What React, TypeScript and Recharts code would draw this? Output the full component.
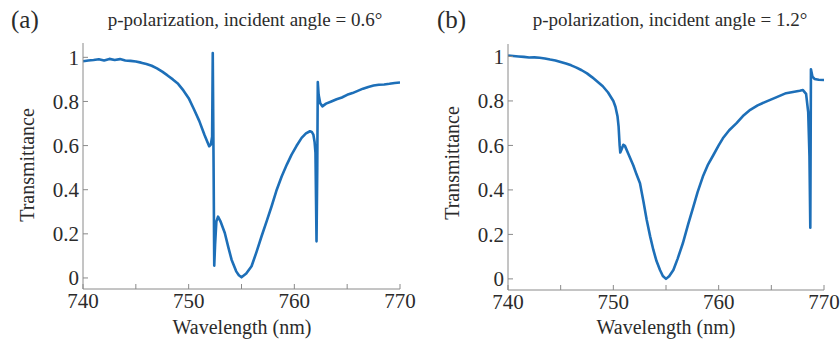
import { LineChart, Line, XAxis, YAxis } from 'recharts';

// Panel (a): p-polarization at 0.6° incidence
const wavelengthA = [
  740.0, 740.5, 741.0, 741.5, 742.0, 742.5, 743.0, 743.5, 744.0, 744.5,
  745.0, 745.5, 746.0, 746.5, 747.0, 747.5, 748.0, 748.5, 749.0, 749.5,
  750.0, 750.5, 751.0, 751.5, 751.94, 752.1, 752.22, 752.28, 752.36, 752.42,
  752.5, 752.62, 752.78, 753.0, 753.42, 753.75, 754.06, 754.5, 754.75, 755.0,
  755.45, 755.95, 756.4, 756.9, 757.4, 757.85, 758.3, 758.8, 759.3, 759.74,
  760.2, 760.69, 761.1, 761.48, 761.65, 761.8, 761.92, 762.0, 762.1, 762.17,
  762.22, 762.3, 762.45, 762.65, 763.0, 763.5, 764.0, 764.5, 765.0, 765.5,
  766.0, 766.5, 767.0, 767.5, 768.0, 768.5, 769.0, 769.5, 770.0,
];
const transmittanceA = [
  0.982, 0.986, 0.988, 0.991, 0.986, 0.993, 0.988, 0.992, 0.986, 0.984,
  0.981, 0.976, 0.970, 0.962, 0.950, 0.935, 0.918, 0.900, 0.880, 0.850,
  0.815, 0.765, 0.712, 0.648, 0.597, 0.605, 0.640, 1.020, 0.500, 0.056,
  0.150, 0.255, 0.278, 0.258, 0.204, 0.140, 0.083, 0.030, 0.012, 0.003,
  0.020, 0.053, 0.115, 0.189, 0.260, 0.325, 0.395, 0.460, 0.515, 0.559,
  0.598, 0.635, 0.655, 0.665, 0.662, 0.650, 0.615, 0.567, 0.166, 0.500,
  0.888, 0.830, 0.792, 0.778, 0.790, 0.800, 0.810, 0.818, 0.830, 0.838,
  0.848, 0.858, 0.866, 0.872, 0.876, 0.877, 0.880, 0.884, 0.886,
];

// Panel (b): p-polarization at 1.2° incidence
const wavelengthB = [
  740.0, 740.5, 741.0, 741.5, 742.0, 742.5, 743.0, 743.5, 744.0, 744.5,
  745.0, 745.5, 746.0, 746.5, 747.0, 747.5, 748.0, 748.5, 749.0, 749.5,
  750.0, 750.2, 750.4, 750.5, 750.6, 750.66, 750.75, 750.95, 751.1, 751.4,
  751.9, 752.2, 752.53, 752.85, 753.17, 753.5, 753.8, 754.1, 754.43, 754.7,
  755.0, 755.3, 755.7, 756.1, 756.6, 757.1, 757.6, 758.0, 758.5, 759.0,
  759.5, 760.0, 760.4, 761.0, 761.7, 762.3, 763.0, 763.7, 764.5, 765.4,
  766.4, 767.7, 768.0, 768.3, 768.5, 768.62, 768.7, 768.76, 768.9, 769.1,
  769.5, 770.0,
];
const transmittanceB = [
  1.004, 1.002, 1.000, 0.998, 0.995, 0.996, 0.994, 0.991, 0.986, 0.982,
  0.975, 0.968, 0.960, 0.950, 0.938, 0.924, 0.906, 0.886, 0.866, 0.838,
  0.800, 0.774, 0.730, 0.684, 0.600, 0.568, 0.578, 0.603, 0.598, 0.565,
  0.510, 0.470, 0.430, 0.350, 0.265, 0.190, 0.130, 0.080, 0.040, 0.013,
  0.000, 0.012, 0.040, 0.090, 0.160, 0.245, 0.325, 0.390, 0.460, 0.515,
  0.557, 0.600, 0.632, 0.668, 0.700, 0.732, 0.760, 0.780, 0.797, 0.815,
  0.835, 0.846, 0.849, 0.832, 0.750, 0.550, 0.230, 0.942, 0.910, 0.899,
  0.895, 0.894,
];

const xTicks = [740, 745, 750, 755, 760, 765, 770];
const xLabels = [740, 750, 760, 770];
const yTicks = [0, 0.2, 0.4, 0.6, 0.8, 1];

const FONT = 'Liberation Serif, Times New Roman, serif';
const AXIS_GRAY = '#8a8a8a';
const TEXT = '#2b2b2b';
const LINE_BLUE = '#1d6fb8';
const TICK_STYLE = { fontSize: 21, fill: TEXT, style: { fontFamily: FONT } };

const fmtX = (v: number) => (xLabels.includes(v) ? String(v) : '');
const fmtY = (v: number) => (v === 0 || v === 1 ? String(v) : v.toFixed(1));

interface PanelProps {
  xs: number[];
  ys: number[];
  yMax: number;
  left: number;
  top: number;
  axisWidth: number;
  rightPad: number;
  bottomHeight: number;
}

function Panel({ xs, ys, yMax, left, top, axisWidth, rightPad, bottomHeight }: PanelProps) {
  const data = xs.map((x, i) => ({ x, t: ys[i] }));
  const domainY: [number, number] = [-0.05, yMax];
  return (
    <div style={{ position: 'absolute', left, top: 0 }}>
      <LineChart
        width={420}
        height={341}
        data={data}
        margin={{ top, right: rightPad, bottom: 0, left: 0 }}
        style={{ fontFamily: FONT }}
      >
        <XAxis
          xAxisId="bottom"
          dataKey="x"
          type="number"
          domain={[740, 770]}
          ticks={xTicks}
          tickFormatter={fmtX}
          height={bottomHeight}
          stroke={AXIS_GRAY}
          tickSize={-5}
          tickMargin={9}
          tick={TICK_STYLE}
          interval={0}
          allowDataOverflow
        />
        <XAxis
          xAxisId="top"
          orientation="top"
          dataKey="x"
          type="number"
          domain={[740, 770]}
          ticks={xTicks}
          height={0}
          stroke={AXIS_GRAY}
          tickSize={-5}
          tick={false}
          interval={0}
          allowDataOverflow
        />
        <YAxis
          yAxisId="left"
          type="number"
          domain={domainY}
          ticks={yTicks}
          tickFormatter={fmtY}
          width={axisWidth}
          stroke={AXIS_GRAY}
          tickSize={-5}
          tickMargin={9}
          tick={TICK_STYLE}
          interval={0}
          allowDataOverflow
        />
        <YAxis
          yAxisId="right"
          orientation="right"
          type="number"
          domain={domainY}
          ticks={yTicks}
          width={0}
          stroke={AXIS_GRAY}
          tickSize={-5}
          tick={false}
          interval={0}
          allowDataOverflow
        />
        <Line
          xAxisId="bottom"
          yAxisId="left"
          type="linear"
          dataKey="t"
          stroke={LINE_BLUE}
          strokeWidth={2.6}
          strokeLinejoin="round"
          dot={false}
          isAnimationActive={false}
        />
      </LineChart>
    </div>
  );
}

export default function App() {
  return (
    <div
      style={{
        position: 'absolute',
        left: 0,
        top: 0,
        width: 840,
        height: 341,
        background: '#fff',
        fontFamily: FONT,
      }}
    >
      <Panel
        xs={wavelengthA}
        ys={transmittanceA}
        yMax={1.065}
        left={0}
        top={43}
        axisWidth={83}
        rightPad={20}
        bottomHeight={52}
      />
      <Panel
        xs={wavelengthB}
        ys={transmittanceB}
        yMax={1.056}
        left={420}
        top={44}
        axisWidth={88}
        rightPad={16}
        bottomHeight={51}
      />
      <svg
        width={840}
        height={341}
        style={{ position: 'absolute', left: 0, top: 0, pointerEvents: 'none', fontFamily: FONT }}
        fill={TEXT}
      >
        <text x={11} y={28} fontSize={25}>(a)</text>
        <text x={245} y={26} fontSize={19} textAnchor="middle">
          p-polarization, incident angle = 0.6°
        </text>
        <text x={437} y={28} fontSize={25}>(b)</text>
        <text x={670} y={26} fontSize={19} textAnchor="middle">
          p-polarization, incident angle = 1.2°
        </text>
        <text x={242} y={334} fontSize={20} textAnchor="middle">Wavelength (nm)</text>
        <text x={666} y={334} fontSize={20} textAnchor="middle">Wavelength (nm)</text>
        <text transform="translate(34,165) rotate(-90)" fontSize={20} textAnchor="middle">
          Transmittance
        </text>
        <text transform="translate(459,163) rotate(-90)" fontSize={20} textAnchor="middle">
          Transmittance
        </text>
      </svg>
    </div>
  );
}
